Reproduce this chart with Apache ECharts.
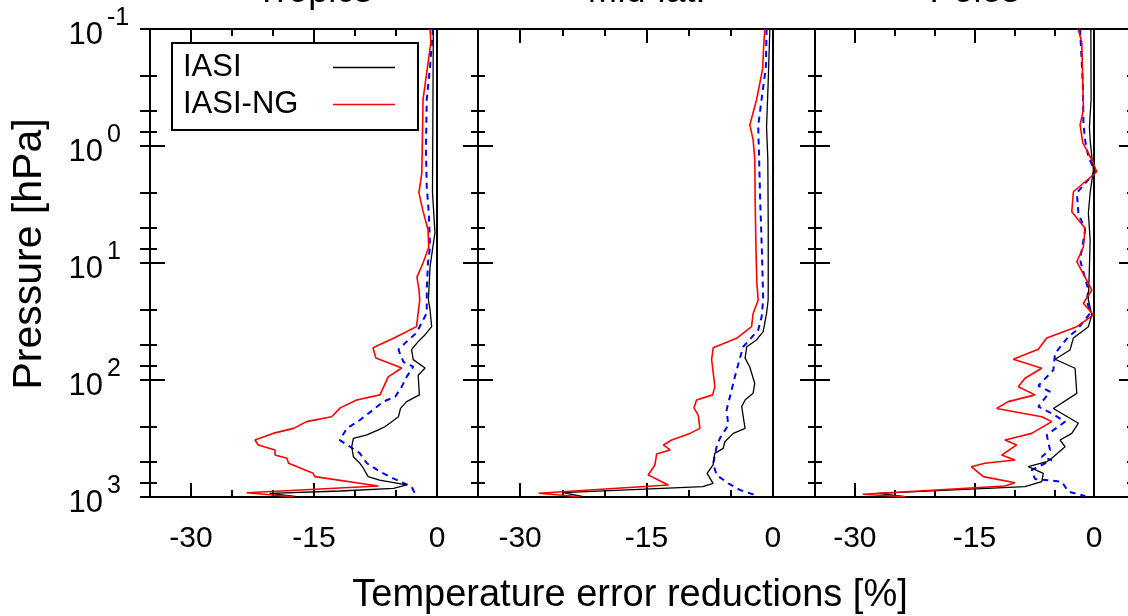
<!DOCTYPE html>
<html><head><meta charset="utf-8">
<script src="https://cdn.jsdelivr.net/npm/echarts@6/dist/echarts.min.js"></script>
<style>html,body{margin:0;padding:0;background:#fff}#c{width:1128px;height:616px}</style>
</head><body><div id="c"></div>
<script>
// ---- data: [temperature error reduction %, pressure hPa] ----
const regions = ['Tropics', 'Mid-lat.', 'Poles'];
const xTickLabels = [-30, -15, 0];
const yDecades = [0.1, 1, 10, 100, 1000];
const yMinorTicks = [0.25, 0.5, 0.75, 2.5, 5, 7.5, 25, 50, 75, 250, 500, 750];
const legendNames = ['IASI', 'IASI-NG'];

const tropicsIASI = [[-0.45,0.1],[-0.5,0.5],[-0.55,2.5],[-0.25,5.5],[-0.85,10.8],[-1.05,20.7],[-0.85,25],[-0.65,35],[-1.45,41],[-2.3,47],[-3.1,55],[-2.9,67],[-1.45,79],[-2.3,91],[-2.15,134],[-3.7,153],[-4.45,175],[-4.7,206],[-6.35,251],[-7.15,267],[-8.55,295],[-10.2,315],[-10.4,372],[-10.2,453],[-9.4,515],[-9.0,565],[-8.4,670],[-7.0,716],[-3.7,789],[-5.3,843],[-11.8,889],[-20.4,930],[-17.1,995]];
const tropicsNG = [[-0.85,0.1],[-0.75,0.13],[-1.7,0.4],[-1.85,1.7],[-2.2,2.5],[-1.75,3.5],[-1.1,5.2],[-1.0,7.3],[-1.7,10],[-2.45,13.2],[-2.2,17],[-2.1,20.7],[-2.5,35],[-5.3,44],[-7.8,53],[-7.45,65],[-4.3,79],[-5.95,94],[-6.95,134],[-9.8,148],[-11.8,173],[-12.85,206],[-15.9,227],[-17.5,259],[-20,286],[-22.2,326],[-21.8,359],[-19.75,396],[-19.75,438],[-18.3,467],[-18.1,515],[-15.1,628],[-14.9,670],[-7.15,805],[-23.2,919],[-20,961],[-17.5,995]];
const tropicsOther = [[-0.5,0.1],[-0.85,0.21],[-1.25,0.4],[-1.35,1.08],[-1.25,2.24],[-1.0,3.74],[-0.85,7.3],[-1.1,10],[-1.25,17],[-1.25,26.7],[-2.5,39.6],[-3.7,47],[-4.7,55],[-4.1,70],[-2.9,77],[-3.7,94],[-4.3,114],[-5.1,139],[-6.55,153],[-7.8,180],[-9.4,220],[-11.0,259],[-11.85,326],[-10.6,372],[-9.4,424],[-8.55,515],[-6.95,608],[-5.35,692],[-3.1,816],[-2.7,930],[-2.5,1000]];

const midIASI = [[-0.36,0.1],[-0.56,0.29],[-0.75,0.69],[-0.6,1.3],[-0.55,5],[-0.55,15],[-0.56,20.7],[-0.75,27],[-1.15,38.6],[-1.95,45.5],[-3.1,52],[-3.3,65],[-2.75,77],[-2.15,107],[-2.35,130],[-3.3,148],[-3.7,169],[-3.3,259],[-4.7,286],[-5.7,337],[-5.9,384],[-6.9,424],[-7.1,532],[-7.8,628],[-7.1,764],[-8.3,816],[-24.9,919],[-22.5,995]];
const midNG = [[-0.95,0.1],[-1.07,0.13],[-1.22,0.22],[-1.93,0.4],[-2.73,0.66],[-2.34,0.89],[-2.14,1.32],[-2.1,3],[-2.0,8],[-1.9,15],[-1.74,20.7],[-2.34,27],[-2.53,35],[-4.31,44],[-7.08,53],[-7.27,67],[-6.88,114],[-7.15,134],[-9.05,148],[-9.37,173],[-8.86,200],[-8.66,259],[-9.85,286],[-12.0,326],[-13.0,359],[-12.2,396],[-13.8,429],[-14.0,532],[-14.8,649],[-14.4,670],[-13.2,740],[-12.4,789],[-27.8,930],[-22.9,995]];
const midOther = [[-0.75,0.1],[-0.83,0.21],[-1.34,0.4],[-1.74,0.67],[-1.63,1.32],[-1.5,3],[-1.3,8],[-1.2,15],[-1.15,20.7],[-1.34,29],[-1.74,37.4],[-3.52,52],[-3.91,65],[-4.51,94],[-5.1,139],[-5.49,180],[-5.3,243],[-6.29,315],[-6.68,372],[-7.08,515],[-6.68,649],[-5.3,764],[-3.91,871],[-2.14,961]];

const polesIASI = [[-0.41,0.1],[-0.38,0.4],[-0.59,0.69],[-0.5,0.89],[-0.29,1.24],[-0.09,1.6],[-0.5,2.52],[-0.72,3.74],[-0.5,6.36],[-0.59,10.8],[-0.72,20.7],[-0.29,27.8],[-0.72,35],[-2.6,43.7],[-3.02,55.4],[-4.9,66.5],[-2.39,79.4],[-2.17,130],[-5.11,175],[-1.97,234],[-2.8,286],[-4.27,326],[-3.64,372],[-5.31,467],[-5.94,499],[-8.25,551],[-6.37,628],[-6.57,740],[-8.67,816],[-27.1,930],[-23.7,995]];
const polesNG = [[-2.0,0.1],[-1.55,0.13],[-1.42,0.29],[-1.34,0.49],[-1.76,0.66],[-1.42,0.94],[-0.72,1.15],[-0.29,1.32],[0.34,1.66],[-2.6,2.46],[-2.8,3.64],[-1.13,5.05],[-1.34,7.26],[-2.17,9.75],[-0.29,17],[-1.34,22.1],[-0.09,27.8],[-2.17,35],[-5.94,43.7],[-7.0,54.7],[-10.14,66.5],[-6.57,79.4],[-8.67,96.7],[-9.51,114],[-7.41,134],[-10.77,153],[-12.22,175],[-6.57,206],[-5.31,227],[-7.83,286],[-9.51,305],[-11.18,326],[-9.71,359],[-11.6,438],[-9.92,483],[-13.7,515],[-15.4,551],[-13.9,670],[-9.92,755],[-11.18,805],[-29.0,948],[-23.7,995]];
const polesOther = [[-1.76,0.1],[-1.42,0.29],[-1.34,0.64],[-1.13,0.89],[-0.72,1.24],[0.13,1.66],[-2.17,2.52],[-1.97,3.74],[-1.13,5.22],[-1.76,9.43],[-0.72,17],[-0.92,20.7],[-0.5,26.9],[-2.17,37.4],[-3.23,42.7],[-4.9,59.2],[-5.11,82.2],[-7.0,112],[-5.53,126],[-7.0,169],[-5.31,193],[-3.64,227],[-5.94,295],[-5.53,396],[-6.57,453],[-5.31,483],[-7.83,588],[-7.41,702],[-4.06,740],[-3.23,901],[-1.13,980]];

const panelIASI = [tropicsIASI, midIASI, polesIASI];
const panelNG = [tropicsNG, midNG, polesNG];
const panelOther = [tropicsOther, midOther, polesOther];

// ---- layout ----
const FONT = '"Liberation Sans", Arial, Helvetica, sans-serif';
const gridLeft = [150, 478, 815];
const gridWidth = [328, 337, 319];
const gridTop = 29, gridHeight = 468;
const tickStyle = { color: '#000', width: 2 };
const noLine = { show: false, onZero: false };

const grids = [], xAxes = [], yAxes = [], series = [], graphics = [];

for (let g = 0; g < 3; g++) {
  grids.push({ left: gridLeft[g], top: gridTop, width: gridWidth[g], height: gridHeight,
    outerBoundsMode: 'none', containLabel: false,
    show: true, borderColor: '#000', borderWidth: 2, backgroundColor: 'transparent' });

  const xBase = { type: 'value', gridIndex: g, min: -35, max: 5, splitLine: { show: false }, axisLine: noLine };
  const xMain = xAxes.length;
  xAxes.push(Object.assign({}, xBase, { position: 'bottom', interval: 5,
    axisTick: { inside: true, length: 7, lineStyle: tickStyle },
    axisLabel: { show: true, margin: 27, fontSize: 30, color: '#000', fontFamily: FONT,
      formatter: v => (xTickLabels.indexOf(v) >= 0 ? String(v) : '') } }));
  xAxes.push(Object.assign({}, xBase, { position: 'top', interval: 5,
    axisTick: { inside: true, length: 7, lineStyle: tickStyle }, axisLabel: { show: false } }));
  xAxes.push(Object.assign({}, xBase, { position: 'bottom',
    axisTick: { inside: true, length: 14, lineStyle: tickStyle, customValues: xTickLabels }, axisLabel: { show: false } }));
  xAxes.push(Object.assign({}, xBase, { position: 'top',
    axisTick: { inside: true, length: 14, lineStyle: tickStyle, customValues: xTickLabels }, axisLabel: { show: false } }));

  const yBase = { type: 'log', logBase: 10, gridIndex: g, min: 0.1, max: 1000, inverse: true,
    splitLine: { show: false }, axisLine: noLine, axisLabel: { show: false } };
  const yMain = yAxes.length;
  yAxes.push(Object.assign({}, yBase, { position: 'left',
    axisTick: { inside: true, length: 15, lineStyle: tickStyle, customValues: yDecades },
    axisLabel: g === 0 ? {
      show: true, customValues: yDecades, margin: 47, color: '#000', fontFamily: FONT,
      fontSize: 31, verticalAlign: 'top', lineHeight: 13, formatter: () => '10' } : { show: false } }));
  yAxes.push(Object.assign({}, yBase, { position: 'left',
    axisTick: { inside: true, length: 7, lineStyle: tickStyle, customValues: yMinorTicks } }));
  yAxes.push(Object.assign({}, yBase, { position: 'right',
    axisTick: { inside: true, length: 15, lineStyle: tickStyle, customValues: yDecades } }));
  yAxes.push(Object.assign({}, yBase, { position: 'right',
    axisTick: { inside: true, length: 7, lineStyle: tickStyle, customValues: yMinorTicks } }));
  if (g === 0) {
    // outward ticks on the leftmost axis
    yAxes.push(Object.assign({}, yBase, { position: 'left',
      axisTick: { inside: false, length: 10, lineStyle: tickStyle, customValues: yDecades.concat(yMinorTicks) } }));
    // exponent (superscript) labels of the decade labels
    yAxes.push(Object.assign({}, yBase, { position: 'left', axisTick: { show: false },
      axisLabel: { show: true, customValues: yDecades, margin: 43, align: 'left', verticalAlign: 'bottom',
        color: '#000', fontFamily: FONT, fontSize: 25, lineHeight: 22,
        formatter: v => String(Math.round(Math.log10(v))) } }));
  }

  series.push({ type: 'line', name: 'other', xAxisIndex: xMain, yAxisIndex: yMain, data: panelOther[g],
    symbol: 'none', lineStyle: { color: '#0000ff', width: 2, type: [6, 5] }, itemStyle: { color: '#0000ff' }, z: 3 });
  series.push({ type: 'line', name: legendNames[0], xAxisIndex: xMain, yAxisIndex: yMain, data: panelIASI[g],
    symbol: 'none', lineStyle: { color: '#000', width: 1.3 }, itemStyle: { color: '#000' }, z: 4,
    markLine: { silent: true, symbol: ['none', 'none'], label: { show: false },
      lineStyle: { color: '#000', width: 2, type: 'solid' }, data: [{ xAxis: 0 }] } });
  series.push({ type: 'line', name: legendNames[1], xAxisIndex: xMain, yAxisIndex: yMain, data: panelNG[g],
    symbol: 'none', lineStyle: { color: '#ff0000', width: 1.6 }, itemStyle: { color: '#ff0000' }, z: 5 });

  graphics.push({ type: 'text', x: gridLeft[g] + gridWidth[g] / 2, y: -8,
    style: { text: regions[g], fontSize: 36, fontFamily: FONT, fill: '#000', align: 'center', verticalAlign: 'middle' } });
}

graphics.push({ type: 'text', x: 630, y: 596,
  style: { text: 'Temperature error reductions [%]', fontSize: 38, fontFamily: FONT, fill: '#000', align: 'center', verticalAlign: 'middle' } });
graphics.push({ type: 'text', x: 30, y: 254, rotation: Math.PI / 2,
  style: { text: 'Pressure [hPa]', fontSize: 41, fontFamily: FONT, fill: '#000', align: 'center', verticalAlign: 'middle' } });

const chart = echarts.init(document.getElementById('c'), null, { renderer: 'canvas' });
chart.setOption({
  backgroundColor: '#fff',
  animation: false,
  textStyle: { fontFamily: FONT },
  grid: grids,
  xAxis: xAxes,
  yAxis: yAxes,
  legend: {
    data: legendNames, orient: 'vertical', left: 172, top: 43, align: 'right',
    icon: 'rect', itemWidth: 62, itemHeight: 1.5, itemGap: 6,
    padding: [9, 23, 10, 11], borderColor: '#000', borderWidth: 2, borderRadius: 0,
    backgroundColor: '#fff', selectedMode: false,
    textStyle: { fontSize: 31, color: '#000', fontFamily: FONT,
      rich: { t: { fontSize: 31, width: 145, align: 'left', color: '#000', fontFamily: FONT } } },
    formatter: n => '{t|' + n + '}'
  },
  graphic: graphics,
  series: series
});
</script>
</body></html>
